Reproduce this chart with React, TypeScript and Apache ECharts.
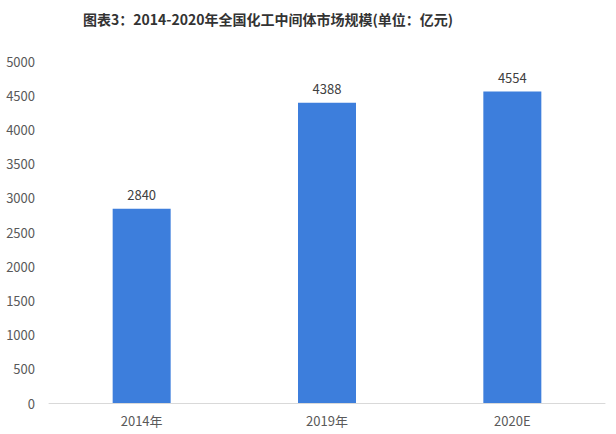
import React, { useEffect, useRef } from "react";
import * as echarts from "echarts";

const categories = ["2014年", "2019年", "2020E"];
const values = [2840, 4388, 4554];
const titleText = "图表3：2014-2020年全国化工中间体市场规模(单位：亿元)";

export default function App() {
  const ref = useRef<HTMLDivElement>(null);
  useEffect(() => {
    if (!ref.current) return;
    const chart = echarts.init(ref.current, null, { renderer: "svg" });
    const font = "'Noto Sans CJK SC', 'Microsoft YaHei', sans-serif";
    chart.setOption({
      animation: false,
      backgroundColor: "#ffffff",
      title: {
        text: titleText,
        left: 78,
        top: 7,
        textStyle: { fontSize: 14, fontWeight: "bold", color: "#333333", fontFamily: font },
      },
      grid: { left: 49, right: 11, top: 61, bottom: 31, containLabel: false },
      xAxis: {
        type: "category",
        data: categories,
        axisLine: { show: true, lineStyle: { color: "#d9d9d9", width: 1 } },
        axisTick: { show: false },
        axisLabel: { color: "#595959", fontSize: 13, fontFamily: font, margin: 11 },
      },
      yAxis: {
        type: "value",
        min: 0,
        max: 5000,
        interval: 500,
        axisLine: { show: false },
        axisTick: { show: false },
        splitLine: { show: false },
        axisLabel: {
          color: "#595959",
          fontSize: 13,
          fontFamily: font,
          margin: 14,
          formatter: (v: number) => String(v),
        },
      },
      series: [
        {
          type: "bar",
          data: values,
          barWidth: 58,
          itemStyle: { color: "#3d7edc" },
          label: {
            show: true,
            position: "top",
            distance: 8,
            color: "#404040",
            fontSize: 13,
            fontFamily: font,
          },
        },
      ],
    });
    return () => chart.dispose();
  }, []);
  return (
    <div
      ref={ref}
      style={{ position: "fixed", left: 0, top: 0, width: 616, height: 434 }}
    />
  );
}
